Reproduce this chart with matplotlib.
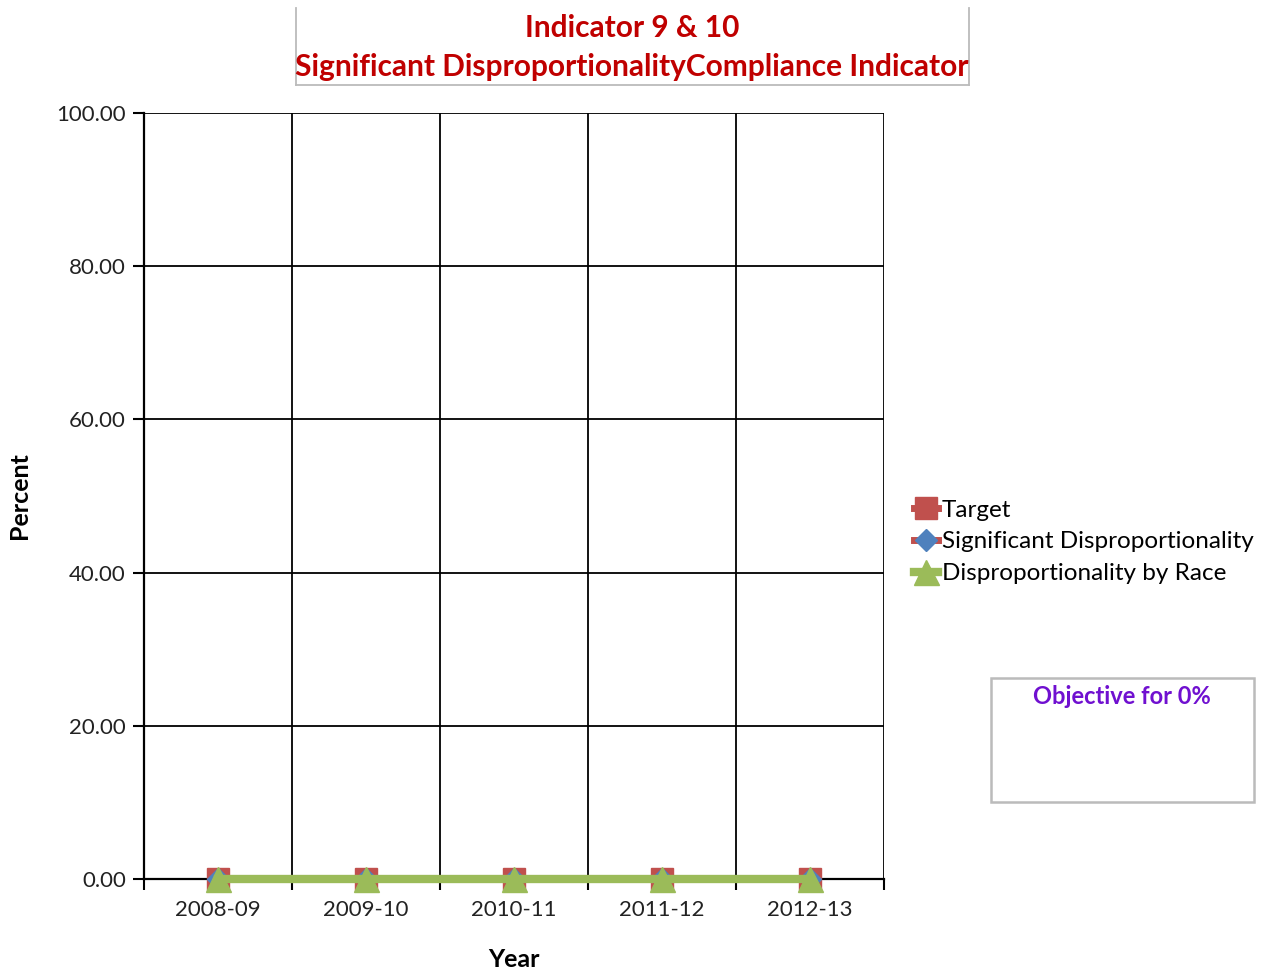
import matplotlib
matplotlib.use("Agg")
import matplotlib.pyplot as plt
from matplotlib.lines import Line2D
from matplotlib.patches import Rectangle

plt.rcParams["font.family"] = ["Lato", "DejaVu Sans"]

years = ["2008-09", "2009-10", "2010-11", "2011-12", "2012-13"]
target = [0.0, 0.0, 0.0, 0.0, 0.0]
sig_disp = [0.0, 0.0, 0.0, 0.0, 0.0]
disp_race = [0.0, 0.0, 0.0, 0.0, 0.0]

W, H = 1267, 969
fig = plt.figure(figsize=(W / 100, H / 100), dpi=100)
ax = fig.add_axes([144 / W, 1 - 879 / H, 740 / W, 766 / H])

xs = list(range(len(years)))
ax.plot(xs, target, color="#C0504D", marker="s", markersize=16, lw=5,
        label="Target", zorder=3, clip_on=False)
ax.plot(xs, sig_disp, color="#C0504D", marker="D", markersize=11, lw=5,
        markerfacecolor="#4F81BD", markeredgecolor="#4F81BD",
        label="Significant Disproportionality", zorder=4, clip_on=False)
ax.plot(xs, disp_race, color="#9BBB59", marker="^", markersize=18, lw=6,
        label="Disproportionality by Race", zorder=5, clip_on=False)

ax.set_xlim(-0.5, len(years) - 0.5)
ax.set_ylim(0, 100)
ax.set_xticks(xs, labels=years)
ax.set_xticks([i - 0.5 for i in range(len(years) + 1)], minor=True)
ax.tick_params(axis="x", which="major", length=0, labelsize=16, pad=15,
               labelcolor="#222222")
ax.tick_params(axis="x", which="minor", length=8, width=1.5,
               direction="out", color="black")
ax.set_yticks([0, 20, 40, 60, 80, 100])
ax.set_yticklabels(["{:.2f}".format(v) for v in [0, 20, 40, 60, 80, 100]])
ax.tick_params(axis="y", length=8, width=1.5, labelsize=16, pad=5,
               labelcolor="#222222")

ax.grid(axis="y", color="black", lw=1.3)
ax.grid(axis="x", which="minor", color="black", lw=1.3)
ax.set_axisbelow(True)
for side in ["top", "right"]:
    ax.spines[side].set_visible(False)
ax.spines["left"].set_linewidth(1.6)
ax.spines["bottom"].set_linewidth(1.6)

ax.set_xlabel("Year", fontsize=18, fontweight="bold", labelpad=20)
ax.set_ylabel("Percent", fontsize=18, fontweight="bold", labelpad=18)

ax.legend(loc="center left", bbox_to_anchor=(1.04, 0.44), frameon=False,
          fontsize=17.5, handlelength=1.0, handletextpad=0.15,
          labelspacing=0.45, borderaxespad=0, borderpad=0)

# Title box (no top edge)
for x0, y0, x1, y1 in [(296, 8, 296, 85), (969, 8, 969, 85),
                       (296, 85, 969, 85)]:
    fig.add_artist(Line2D([x0 / W, x1 / W], [1 - y0 / H, 1 - y1 / H],
                          transform=fig.transFigure, color="#BBBBBB", lw=1.3))
fig.text(632 / W, 1 - 28 / H, "Indicator 9 & 10", ha="center",
         va="center", fontsize=21.5, fontweight="bold", color="#C00000")
fig.text(632 / W, 1 - 67 / H,
         "Significant DisproportionalityCompliance Indicator", ha="center",
         va="center", fontsize=21.5, fontweight="bold", color="#C00000")

# Objective box
fig.patches.append(Rectangle((991 / W, 1 - 802 / H), 263 / W, 124 / H,
                             transform=fig.transFigure, facecolor="white",
                             edgecolor="#BBBBBB", lw=1.8))
fig.text(1122 / W, 1 - 696 / H, "Objective for 0%", ha="center",
         va="center", fontsize=17, fontweight="bold", color="#7010D0")

fig.savefig("out.png", dpi=100)
